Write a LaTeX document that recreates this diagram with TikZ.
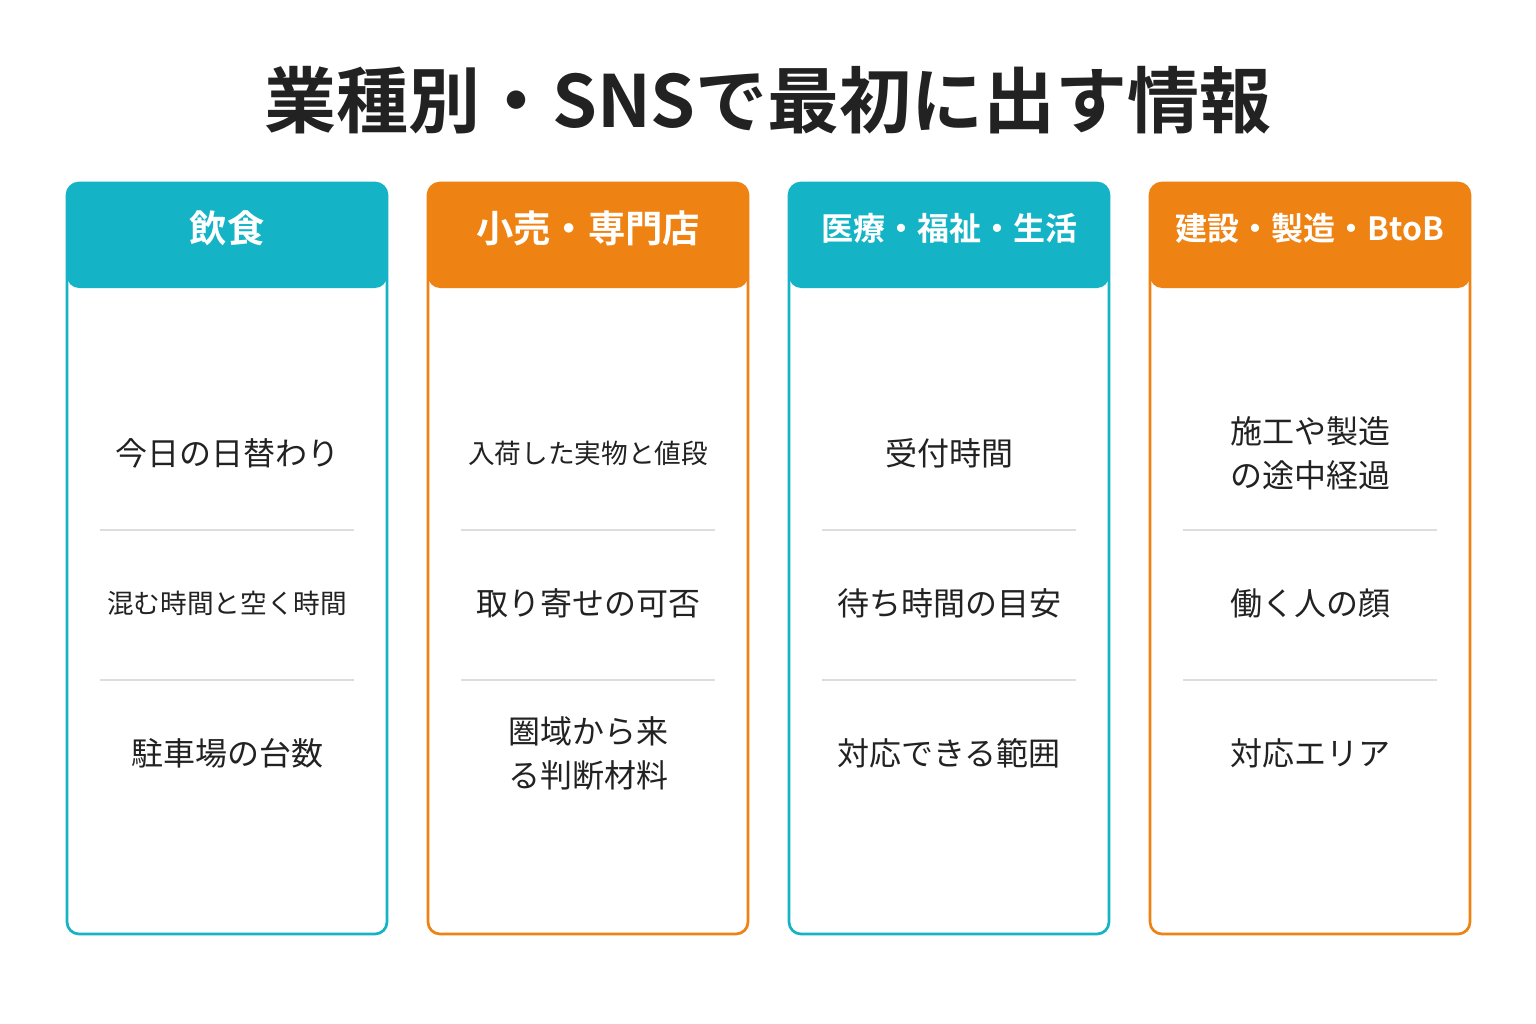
\documentclass[tikz,border=0pt]{standalone}
\usepackage{fontspec}
\setmainfont{Noto Sans CJK JP}
\newfontfamily\boldjp{Noto Sans CJK JP Bold}
\definecolor{tealc}{HTML}{14B3C6}
\definecolor{orangec}{HTML}{EE8212}
\definecolor{sepc}{HTML}{DDDDDD}
\definecolor{textc}{HTML}{222222}
\tikzset{
  head/.style={text=white,font=\boldjp\fontsize{28}{30}\selectfont},
  item/.style={text=textc,align=center,font=\fontsize{24}{33}\selectfont},
  sep/.style={draw=sepc,line width=1pt},
}
\begin{document}
\begin{tikzpicture}[x=0.75pt,y=-0.75pt]
  \useasboundingbox[fill=white] (0,0) rectangle (1536,1024);
  \node[text=textc,font=\boldjp\fontsize{54}{60}\selectfont] (title) at (768,100) {業種別・SNSで最初に出す情報};

  % cards
  \foreach \x/\c/\n in {67/tealc/a,428/orangec/b,789/tealc/c,1150/orangec/d}{
    \fill[\c,rounded corners=9pt] (\x,183) rectangle (\x+320,288);
    \draw[\c,line width=2pt,rounded corners=9pt] (\x,183) rectangle (\x+320,934);
    \coordinate (\n h) at (\x+160,228);
    \coordinate (\n1) at (\x+160,453);
    \coordinate (\n2) at (\x+160,603);
    \coordinate (\n3) at (\x+160,753);
    \draw[sep] (\x+33,530) -- (\x+287,530);
    \draw[sep] (\x+33,680) -- (\x+287,680);
  }

  \node[head] (ha) at (ah) {飲食};
  \node[head] (hb) at (bh) {小売・専門店};
  \node[head,font=\boldjp\fontsize{24}{28}\selectfont] (hc) at (ch) {医療・福祉・生活};
  \node[head,font=\boldjp\fontsize{24}{28}\selectfont] (hd) at (dh) {建設・製造・BtoB};

  \node[item] (a1) at (a1) {今日の日替わり};
  \node[item,font=\fontsize{20}{28}\selectfont] (a2) at (a2) {混む時間と空く時間};
  \node[item] (a3) at (a3) {駐車場の台数};

  \node[item,font=\fontsize{20}{28}\selectfont] (b1) at (b1) {入荷した実物と値段};
  \node[item] (b2) at (b2) {取り寄せの可否};
  \node[item] (b3) at (b3) {圏域から来\\る判断材料};

  \node[item] (c1) at (c1) {受付時間};
  \node[item] (c2) at (c2) {待ち時間の目安};
  \node[item] (c3) at (c3) {対応できる範囲};

  \node[item] (d1) at (d1) {施工や製造\\の途中経過};
  \node[item] (d2) at (d2) {働く人の顔};
  \node[item] (d3) at (d3) {対応エリア};
\end{tikzpicture}
\end{document}
